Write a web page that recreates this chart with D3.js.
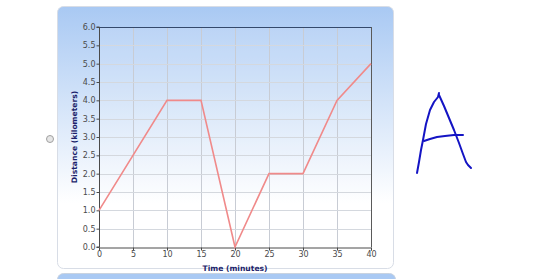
<!DOCTYPE html>
<html>
<head>
    <meta charset="utf-8">
    <title>distance time graph</title>
    <script type="text/javascript" src="https://d3js.org/d3.v7.min.js"></script>
    <style>
      body { margin: 0; background: #fff; }
      svg { display: block; }
    </style>
</head>
<body>
<script type="text/javascript">

    var width = 553
    var height = 279

    // chart values
    var times = [0, 10, 15, 20, 25, 30, 35, 40]
    var distances = [1, 4, 4, 0, 2, 2, 4, 5]
    var xTicks = [0, 5, 10, 15, 20, 25, 30, 35, 40]
    var yTicks = [0, 0.5, 1, 1.5, 2, 2.5, 3, 3.5, 4, 4.5, 5, 5.5, 6]

    // handwritten answer letter (screen strokes)
    var letterStrokes = [
        [[417,173],[419,162],[421,150],[423,140],[426,124],[430,110],[434,102],[438,97],[439,93]],
        [[439,95],[444,106],[449,118],[454,130],[459,143],[463,154],[466,162],[468,165],[471,168]],
        [[424,141],[430,139],[437,137],[445,136],[454,135],[463,135]]
    ]

    var plot = {left: 99, right: 371, top: 27, bottom: 247}

    var svg = d3.select("body").append("svg").attr("width", width).attr("height", height)

    var defs = svg.append("defs")
    var grad = defs.append("linearGradient").attr("id", "panelGrad")
        .attr("x1", 0).attr("y1", 0).attr("x2", 0).attr("y2", 1)
    grad.append("stop").attr("offset", "0%").attr("stop-color", "#a9c9f3")
    grad.append("stop").attr("offset", "75%").attr("stop-color", "#ffffff")
    grad.append("stop").attr("offset", "100%").attr("stop-color", "#ffffff")

    // panel
    svg.append("rect")
        .attr("x", 57.5).attr("y", 6.5)
        .attr("width", 336).attr("height", 262)
        .attr("rx", 6)
        .attr("fill", "url(#panelGrad)")
        .attr("stroke", "#d8dde6")

    // next panel peeking at the bottom
    svg.append("rect")
        .attr("x", 57.5).attr("y", 273.5)
        .attr("width", 338).attr("height", 20)
        .attr("rx", 6)
        .attr("fill", "#a9c9f3")
        .attr("stroke", "#c9d3e0")

    // radio button
    svg.append("circle")
        .attr("cx", 50).attr("cy", 139).attr("r", 3.5)
        .attr("fill", "#e6e6e6").attr("stroke", "#a0a0a0").attr("stroke-width", 1)

    var x = d3.scaleLinear().domain([0, 40]).range([plot.left, plot.right])
    var y = d3.scaleLinear().domain([0, 6]).range([plot.bottom, plot.top])

    svg.append("rect")
        .attr("x", plot.left).attr("y", plot.top)
        .attr("width", plot.right - plot.left).attr("height", plot.bottom - plot.top)
        .attr("fill", "#ffffff").attr("fill-opacity", 0.12)

    // grid
    svg.append("g").selectAll("line.gx")
        .data(xTicks.slice(1, -1))
        .enter().append("line")
        .attr("class", "gx")
        .attr("x1", function(d) { return x(d) + 0.5 })
        .attr("x2", function(d) { return x(d) + 0.5 })
        .attr("y1", plot.top).attr("y2", plot.bottom)
        .attr("stroke", "#c8ccd4").attr("stroke-width", 1)

    svg.append("g").selectAll("line.gy")
        .data(yTicks.slice(1, -1))
        .enter().append("line")
        .attr("class", "gy")
        .attr("x1", plot.left).attr("x2", plot.right)
        .attr("y1", function(d) { return Math.round(y(d)) + 0.5 })
        .attr("y2", function(d) { return Math.round(y(d)) + 0.5 })
        .attr("stroke", "#d4d8de").attr("stroke-width", 1)

    // border top / right
    svg.append("line")
        .attr("x1", plot.left).attr("x2", plot.right + 0.5)
        .attr("y1", plot.top + 0.5).attr("y2", plot.top + 0.5)
        .attr("stroke", "#34496b").attr("stroke-width", 1)
    svg.append("line")
        .attr("x1", plot.right + 0.5).attr("x2", plot.right + 0.5)
        .attr("y1", plot.top).attr("y2", plot.bottom)
        .attr("stroke", "#5a5a5a").attr("stroke-width", 1)

    // axes
    var xAxis = d3.axisBottom(x).tickValues(xTicks).tickSize(3).tickPadding(1).tickFormat(d3.format("d"))
    var yAxis = d3.axisLeft(y).tickValues(yTicks).tickSize(3).tickPadding(1).tickFormat(d3.format(".1f"))

    var gx = svg.append("g").attr("transform", "translate(0," + (plot.bottom + 0.5) + ")").call(xAxis)
    var gy = svg.append("g").attr("transform", "translate(" + (plot.left + 0.5) + ",0)").call(yAxis)

    ;[gx, gy].forEach(function(g) {
        g.select(".domain").attr("stroke", "#4a4a4a")
        g.selectAll(".tick line").attr("stroke", "#4a4a4a")
        g.selectAll(".tick text")
            .attr("fill", "#4a4a4a")
            .style("font-family", "DejaVu Sans, sans-serif")
            .style("font-size", "8px")
    })
    gy.select(".domain").attr("d", "M-3," + plot.bottom + "H0V" + plot.top + "H-3")

    // axis titles
    svg.append("text")
        .attr("x", (plot.left + plot.right) / 2).attr("y", 271)
        .attr("text-anchor", "middle")
        .attr("fill", "#1c1f6b")
        .style("font-family", "DejaVu Sans, sans-serif")
        .style("font-size", "7.6px").style("font-weight", "bold")
        .text("Time (minutes)")

    svg.append("text")
        .attr("transform", "translate(77," + 137 + ") rotate(-90)")
        .attr("text-anchor", "middle")
        .attr("fill", "#1c1f6b")
        .style("font-family", "DejaVu Sans, sans-serif")
        .style("font-size", "7.6px").style("font-weight", "bold")
        .text("Distance (kilometers)")

    // the series
    var points = times.map(function(t, i) { return [t, distances[i]] })
    var line = d3.line()
        .x(function(d) { return x(d[0]) })
        .y(function(d) { return y(d[1]) })

    svg.append("path")
        .datum(points)
        .attr("d", line)
        .attr("fill", "none")
        .attr("stroke", "#f08a8a")
        .attr("stroke-width", 1.6)

    // handwritten A
    var pen = d3.line()
    svg.append("g").selectAll("path")
        .data(letterStrokes)
        .enter().append("path")
        .attr("d", pen)
        .attr("fill", "none")
        .attr("stroke", "#1414c4")
        .attr("stroke-width", 2)
        .attr("stroke-linecap", "round")
        .attr("stroke-linejoin", "round")

</script>
</body>
</html>
